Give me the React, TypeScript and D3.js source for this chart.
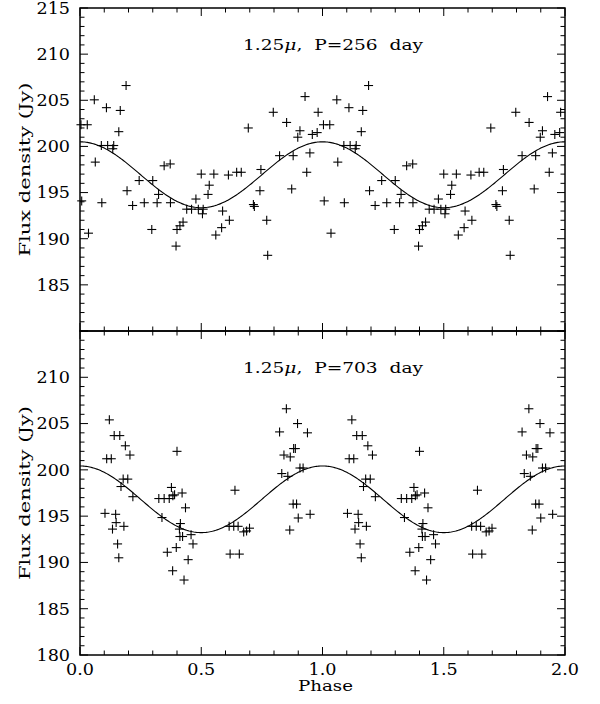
import * as d3 from 'd3'

// phase (0..1), flux density in Jy; each point is plotted again at phase + 1
const obs256: [number, number][] = [
  [0.004, 202.35], [0.03, 202.35], [0.007, 194.1], [0.035, 190.6], [0.059, 205.05], [0.063, 198.3],
  [0.09, 193.9], [0.088, 200.1], [0.114, 200.1], [0.109, 204.2], [0.139, 200.1], [0.135, 199.75],
  [0.16, 201.6], [0.166, 203.9], [0.19, 206.6], [0.194, 195.2], [0.217, 193.6], [0.244, 196.3],
  [0.265, 193.9], [0.296, 191.0], [0.3, 196.3], [0.318, 193.9], [0.324, 194.8], [0.347, 197.9],
  [0.372, 198.1], [0.373, 193.9], [0.396, 189.2], [0.4, 191.0], [0.412, 191.4], [0.425, 191.8],
  [0.44, 193.2], [0.46, 193.2], [0.478, 194.3], [0.488, 193.2], [0.5, 197.0], [0.508, 193.2],
  [0.505, 192.7], [0.528, 194.8], [0.533, 195.8], [0.552, 197.0], [0.56, 190.4], [0.584, 191.2],
  [0.588, 193.0], [0.612, 196.9], [0.616, 192.0], [0.646, 197.2], [0.665, 197.2], [0.694, 202.0],
  [0.715, 193.7], [0.719, 193.5], [0.742, 195.2], [0.746, 197.5], [0.77, 192.0], [0.774, 188.2],
  [0.797, 203.7], [0.823, 199.0], [0.852, 202.6], [0.873, 195.4], [0.879, 199.0], [0.898, 201.0],
  [0.907, 201.7], [0.928, 205.4], [0.935, 197.2], [0.948, 199.3], [0.958, 201.3], [0.978, 201.5],
  [0.982, 203.7],
]

const obs703: [number, number][] = [
  [0.103, 195.3], [0.121, 205.4], [0.11, 201.2], [0.129, 201.2], [0.141, 203.7], [0.164, 203.7],
  [0.187, 202.6], [0.206, 201.6], [0.178, 199.0], [0.197, 199.0], [0.169, 198.2], [0.218, 197.1],
  [0.147, 195.2], [0.149, 194.3], [0.134, 193.6], [0.181, 193.9], [0.155, 192.0], [0.16, 190.5],
  [0.338, 194.85], [0.325, 196.9], [0.347, 196.9], [0.368, 196.9], [0.377, 198.1], [0.383, 197.2],
  [0.39, 197.3], [0.421, 197.5], [0.4, 202.0], [0.435, 195.9], [0.414, 194.2], [0.41, 193.6],
  [0.412, 192.8], [0.423, 192.8], [0.458, 193.0], [0.466, 192.0], [0.36, 191.1], [0.397, 191.6],
  [0.382, 189.1], [0.429, 188.1], [0.446, 190.3],
  [0.615, 193.9], [0.634, 193.9], [0.652, 193.9], [0.639, 197.8], [0.619, 190.9], [0.657, 190.9],
  [0.675, 193.3], [0.687, 193.4], [0.699, 193.7],
  [0.823, 204.1], [0.851, 206.6], [0.841, 201.6], [0.867, 201.4], [0.881, 202.3], [0.888, 202.3],
  [0.897, 205.0], [0.832, 199.6], [0.857, 199.3], [0.865, 193.5], [0.879, 196.3], [0.893, 196.3],
  [0.9, 194.8], [0.907, 200.2], [0.92, 200.2], [0.938, 204.0], [0.949, 195.2],
]

const periods = [256, 703]
// sinusoid fit: mean and semi-amplitude (Jy), maximum at phase 0
const fitMean = [196.93, 196.82]
const fitAmp = [3.57, 3.6]

const yLabels = [
  [185, 190, 195, 200, 205, 210, 215],
  [180, 185, 190, 195, 200, 205, 210],
]
const xLabels = [0, 0.5, 1.0, 1.5, 2.0]

const font = 'DejaVu Serif, serif'
const left = 80
const right = 565
const panelTop = [8, 331]
const panelBottom = [331, 655]

const x = d3.scaleLinear().domain([0, 2]).range([left, right])

function Panel({ idx, obs }: { idx: number; obs: [number, number][] }) {
  const top = panelTop[idx]
  const bottom = panelBottom[idx]
  const y = d3.scaleLinear().domain([180, 215]).range([bottom, top])

  const pts: [number, number][] = []
  obs.forEach(([p, f]) => {
    pts.push([p, f])
    if (p + 1 <= 2) pts.push([p + 1, f])
  })

  const line = d3
    .line<number>()
    .x((p) => x(p))
    .y((p) => y(fitMean[idx] + fitAmp[idx] * Math.cos(2 * Math.PI * p)))
  const curve = line(d3.range(0, 2.0001, 0.005))

  const xTicks = d3.range(0, 21).map((i) => i / 10)
  const yTicks = d3.range(180, 216)

  return (
    <g>
      <path d={curve || ''} fill="none" stroke="#000" strokeWidth={1.1} />
      {pts.map(([p, f], i) => (
        <g key={i} transform={`translate(${x(p)},${y(f)})`} stroke="#000" strokeWidth={1.1}>
          <line x1={-4.5} x2={4.5} y1={0} y2={0} />
          <line x1={0} x2={0} y1={-4.5} y2={4.5} />
        </g>
      ))}
      <rect x={left} y={top} width={right - left} height={bottom - top} fill="none" stroke="#000" strokeWidth={1.5} />
      {xTicks.map((t) => {
        const major = Math.abs(t * 2 - Math.round(t * 2)) < 1e-6
        const len = major ? 8 : 4.5
        return (
          <g key={'x' + t} stroke="#000" strokeWidth={1}>
            <line x1={x(t)} x2={x(t)} y1={bottom} y2={bottom - len} />
            <line x1={x(t)} x2={x(t)} y1={top} y2={top + len} />
          </g>
        )
      })}
      {yTicks.map((t) => {
        const len = t % 5 === 0 ? 8 : 4.5
        return (
          <g key={'y' + t} stroke="#000" strokeWidth={1}>
            <line x1={left} x2={left + len} y1={y(t)} y2={y(t)} />
            <line x1={right} x2={right - len} y1={y(t)} y2={y(t)} />
          </g>
        )
      })}
      {yLabels[idx].map((t) => (
        <text
          key={'yl' + t}
          transform={`translate(70,${y(t) + 5.8}) scale(1.1,1)`}
          textAnchor="end"
          fontFamily={font}
          fontSize={16}
          fill="#000"
        >
          {t}
        </text>
      ))}
      <text
        x={243}
        y={top + 42}
        fontFamily={font}
        fontSize={15}
        fill="#000"
        textLength={180}
        lengthAdjust="spacingAndGlyphs"
        style={{ whiteSpace: 'pre' }}
      >
        1.25<tspan fontStyle="italic">μ</tspan>,  P={periods[idx]}  day
      </text>
      <text
        transform={`translate(30,${(top + bottom) / 2}) rotate(-90)`}
        textAnchor="middle"
        fontFamily={font}
        fontSize={15.5}
        fill="#000"
        textLength={174}
        lengthAdjust="spacingAndGlyphs"
      >
        Flux density (Jy)
      </text>
    </g>
  )
}

export default function App() {
  return (
    <svg width={600} height={704} style={{ position: 'absolute', left: 0, top: 0, background: '#fff' }}>
      <rect width={600} height={704} fill="#fff" />
      <Panel idx={0} obs={obs256} />
      <Panel idx={1} obs={obs703} />
      {xLabels.map((t) => (
        <text
          key={'xl' + t}
          transform={`translate(${x(t)},675) scale(1.1,1)`}
          textAnchor="middle"
          fontFamily={font}
          fontSize={16}
          fill="#000"
        >
          {t.toFixed(1)}
        </text>
      ))}
      <text
        x={(left + right) / 2 + 3}
        y={691}
        textAnchor="middle"
        fontFamily={font}
        fontSize={15}
        fill="#000"
        textLength={55}
        lengthAdjust="spacingAndGlyphs"
      >
        Phase
      </text>
    </svg>
  )
}
